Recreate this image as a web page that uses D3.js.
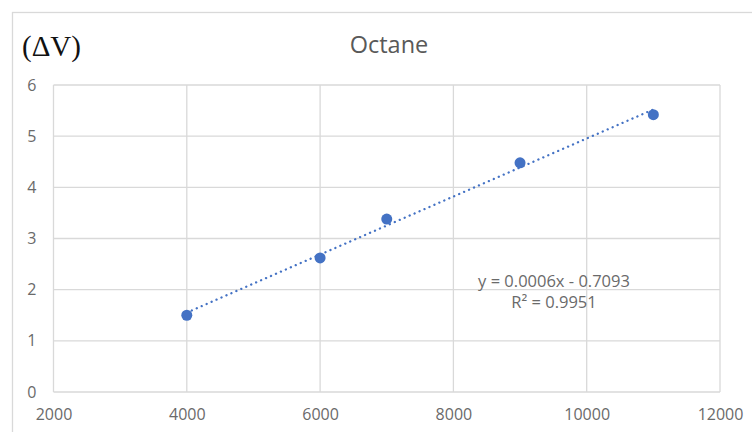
<!DOCTYPE html>
<html><head><meta charset="utf-8">
<script src="https://cdn.jsdelivr.net/npm/d3@7"></script>
<style>body{margin:0;background:#fff}svg{display:block}</style>
</head><body>
<svg id="c" width="752" height="432"></svg>
<script>
const xValues = [4000, 6000, 7000, 9000, 11000];
const yValues = [1.5, 2.62, 3.38, 4.48, 5.42];
const xTicks = [2000, 4000, 6000, 8000, 10000, 12000];
const yTicks = [0, 1, 2, 3, 4, 5, 6];
const titleText = "Octane";
const yUnitText = "(ΔV)";
const eqLines = ["y = 0.0006x - 0.7093", "R² = 0.9951"];

const svg = d3.select("#c");
const W = 752, H = 432;
const m = {left: 53.5, right: 720, top: 85, bottom: 392};
const x = d3.scaleLinear().domain([2000, 12000]).range([m.left, m.right]);
const y = d3.scaleLinear().domain([0, 6]).range([m.bottom, m.top]);

// chart border
svg.append("rect").attr("x", 12.5).attr("y", 12.5).attr("width", W).attr("height", H)
  .attr("fill", "#fff").attr("stroke", "#d9d9d9").attr("stroke-width", 1.3);

// gridlines
const grid = svg.append("g").attr("stroke", "#d9d9d9").attr("stroke-width", 1.3);
grid.selectAll(".gx").data(xTicks).enter().append("line")
  .attr("x1", d => x(d)).attr("x2", d => x(d)).attr("y1", m.top).attr("y2", m.bottom);
grid.selectAll(".gy").data(yTicks).enter().append("line")
  .attr("y1", d => y(d)).attr("y2", d => y(d)).attr("x1", m.left).attr("x2", m.right);

const font = "'Open Sans', 'Noto Sans', sans-serif";
const tickColor = "#6a6a6a";
// axes labels
const xa = d3.axisBottom(x).tickValues(xTicks).tickSize(0).tickPadding(17).tickFormat(d3.format("d"));
const gx = svg.append("g").attr("transform", `translate(0,${m.bottom})`).call(xa);
gx.select(".domain").remove();
gx.selectAll("text").attr("fill", tickColor).style("font-family", font).style("font-size", "16px");
const ya = d3.axisLeft(y).tickValues(yTicks).tickSize(0).tickPadding(17).tickFormat(d3.format("d"));
const gy = svg.append("g").attr("transform", `translate(${m.left},0)`).call(ya);
gy.select(".domain").remove();
gy.selectAll("text").attr("fill", tickColor).style("font-family", font).style("font-size", "16px");

// trendline (least squares)
const n = xValues.length;
const mx = d3.mean(xValues), my = d3.mean(yValues);
let sxy = 0, sxx = 0;
for (let i = 0; i < n; i++) { sxy += (xValues[i]-mx)*(yValues[i]-my); sxx += (xValues[i]-mx)**2; }
const slope = sxy / sxx, icpt = my - slope * mx;
const x0 = d3.min(xValues), x1 = d3.max(xValues);
svg.append("line")
  .attr("x1", x(x0)).attr("y1", y(slope*x0+icpt))
  .attr("x2", x(x1)).attr("y2", y(slope*x1+icpt))
  .attr("stroke", "#4472C4").attr("stroke-width", 2.3)
  .attr("stroke-dasharray", "0.1 5.3").attr("stroke-linecap", "round");

// points
svg.selectAll(".pt").data(xValues).enter().append("circle")
  .attr("cx", (d) => x(d)).attr("cy", (d, i) => y(yValues[i])).attr("r", 5.5)
  .attr("fill", "#4472C4");

// title
svg.append("text").attr("x", 389).attr("y", 53).attr("text-anchor", "middle")
  .attr("fill", "#595959").style("font-family", font).style("font-size", "23.5px").text(titleText);
svg.append("text").attr("x", 22).attr("y", 56)
  .attr("fill", "#111").style("font-family", "'Liberation Serif', 'DejaVu Serif', serif").style("font-size", "29px").text(yUnitText);

// equation
svg.selectAll(".eq").data(eqLines).enter().append("text")
  .attr("x", 554).attr("y", (d, i) => 287 + i * 21).attr("text-anchor", "middle")
  .attr("fill", tickColor).style("font-family", font).style("font-size", "16.5px").text(d => d);
</script>
</body></html>
